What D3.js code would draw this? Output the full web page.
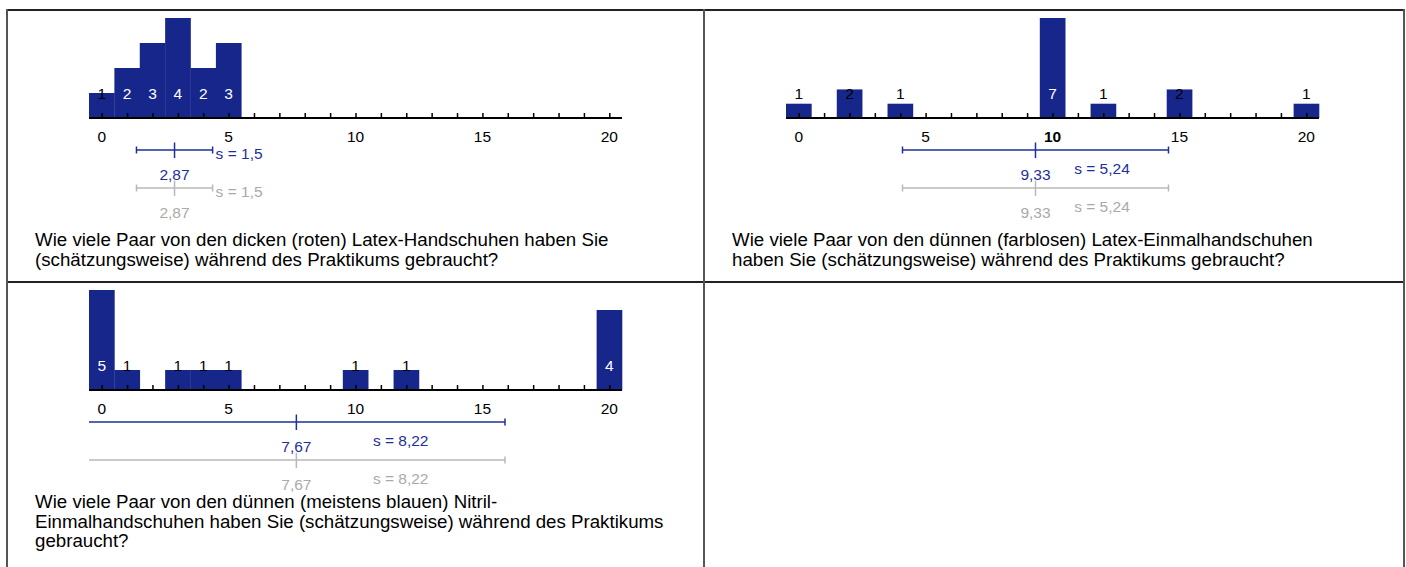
<!DOCTYPE html>
<html><head><meta charset="utf-8">
<script src="https://cdn.jsdelivr.net/npm/d3@7"></script>
<style>
html,body{margin:0;padding:0;background:#fff;}
svg{display:block;font-family:"Liberation Sans",Arial,sans-serif;}
</style></head>
<body><svg id="c" width="1406" height="567"></svg>
<script>
// ---- data ----
const values1 = [0, 1, 2, 3, 4, 5];
const counts1 = [1, 2, 3, 4, 2, 3];
const values2 = [0, 2, 4, 10, 12, 15, 20];
const counts2 = [1, 2, 1, 7, 1, 2, 1];
const values3 = [0, 1, 3, 4, 5, 10, 12, 20];
const counts3 = [5, 1, 1, 1, 1, 1, 1, 4];
const means = [2.87, 9.33, 7.67];
const sds = [1.5, 5.24, 8.22];
const meanLabels = ["2,87", "9,33", "7,67"];
const sdLabels = ["s = 1,5", "s = 5,24", "s = 8,22"];
const tickValues = [0, 5, 10, 15, 20];
const boldTicks = [null, 10, null];
const questions = [
  ["Wie viele Paar von den dicken (roten) Latex-Handschuhen haben Sie",
   "(schätzungsweise) während des Praktikums gebraucht?"],
  ["Wie viele Paar von den dünnen (farblosen) Latex-Einmalhandschuhen",
   "haben Sie (schätzungsweise) während des Praktikums gebraucht?"],
  ["Wie viele Paar von den dünnen (meistens blauen) Nitril-",
   "Einmalhandschuhen haben Sie (schätzungsweise) während des Praktikums",
   "gebraucht?"]
];

// ---- layout ----
const svg = d3.select("#c");
const BAR = "#17268b", BLUE = "#1f2f98", GREY = "#b8b8b8", GREYT = "#aaaaaa";
const FS = 15.5, QFS = 18.7;
const panels = [
  {x0: 7, y0: 10, values: values1, counts: counts1, qY: 246},
  {x0: 704, y0: 10, values: values2, counts: counts2, qY: 246},
  {x0: 7, y0: 282, values: values3, counts: counts3, qY: 508}
];

// table grid
const grid = svg.append("g");
grid.append("line").attr("x1", 7).attr("x2", 1405).attr("y1", 10).attr("y2", 10).attr("stroke", "#222").attr("stroke-width", 2);
grid.append("line").attr("x1", 7).attr("x2", 1405).attr("y1", 282).attr("y2", 282).attr("stroke", "#222").attr("stroke-width", 2);
[7, 704, 1404].forEach(x => grid.append("line").attr("x1", x).attr("x2", x).attr("y1", 9).attr("y2", 567).attr("stroke", "#555").attr("stroke-width", 2));

panels.forEach((p, i) => {
  const g = svg.append("g");
  const left = p.x0 + 82, width = 533;
  const axisY = p.y0 + 108;
  const x = d3.scaleLinear().domain([-0.5, 20.5]).range([left, left + width]);
  const maxC = d3.max(p.counts);
  const y = d3.scaleLinear().domain([0, maxC]).range([axisY, axisY - 100]);
  const bw = x(1) - x(0);

  // bars
  g.selectAll("rect.bar").data(p.values).join("rect")
    .attr("x", d => x(d) - bw / 2).attr("width", bw + 0.3)
    .attr("y", (d, k) => y(p.counts[k])).attr("height", (d, k) => axisY - y(p.counts[k]))
    .attr("fill", BAR);

  // axis with minor ticks at every integer
  const axis = d3.axisTop(x).tickValues(d3.range(0, 21)).tickSize(5).tickFormat("");
  const ag = g.append("g").attr("transform", `translate(0,${axisY})`).call(axis);
  ag.select(".domain").attr("stroke", "#000").attr("stroke-width", 2).attr("d", `M${left},0H${left + width}`);
  ag.selectAll(".tick line").attr("stroke", "#000").attr("stroke-width", 1.5);

  // tick labels
  g.selectAll("text.tl").data(tickValues).join("text")
    .attr("x", d => x(d)).attr("y", axisY + 24).attr("text-anchor", "middle")
    .attr("font-size", FS).attr("font-weight", d => d === boldTicks[i] ? "bold" : "normal")
    .attr("fill", "#000").text(d => d);

  // count labels
  g.selectAll("text.cl").data(p.values).join("text")
    .attr("x", d => x(d)).attr("y", axisY - 19).attr("text-anchor", "middle")
    .attr("font-size", FS)
    .attr("fill", (d, k) => (axisY - y(p.counts[k])) >= 30 ? "#fff" : "#000")
    .text((d, k) => p.counts[k]);

  // error bars (blue and grey)
  [{yy: axisY + 32, c: BLUE, tc: BLUE}, {yy: axisY + 70, c: GREY, tc: GREYT}].forEach(e => {
    const m = means[i], s = sds[i];
    const lo = Math.max(m - s, -0.5), hi = Math.min(m + s, 20.5);
    const eg = g.append("g").attr("stroke", e.c).attr("stroke-width", 1.5);
    eg.append("line").attr("x1", x(lo)).attr("x2", x(hi)).attr("y1", e.yy).attr("y2", e.yy);
    if (m - s >= -0.5) eg.append("line").attr("x1", x(lo)).attr("x2", x(lo)).attr("y1", e.yy - 3.5).attr("y2", e.yy + 3.5);
    if (m + s <= 20.5) eg.append("line").attr("x1", x(hi)).attr("x2", x(hi)).attr("y1", e.yy - 3.5).attr("y2", e.yy + 3.5);
    eg.append("line").attr("x1", x(m)).attr("x2", x(m)).attr("y1", e.yy - 7.5).attr("y2", e.yy + 8);
    g.append("text").attr("x", x(m)).attr("y", e.yy + 30).attr("text-anchor", "middle")
      .attr("font-size", FS).attr("fill", e.tc).text(meanLabels[i]);
    const gap = x(hi) - x(m);
    if (gap > 70) {
      g.append("text").attr("x", (x(m) + x(hi)) / 2).attr("y", e.yy + 24).attr("text-anchor", "middle")
        .attr("font-size", FS).attr("fill", e.tc).text(sdLabels[i]);
    } else {
      g.append("text").attr("x", x(hi) + 3).attr("y", e.yy + 9).attr("text-anchor", "start")
        .attr("font-size", FS).attr("fill", e.tc).text(sdLabels[i]);
    }
  });

  // question text
  const qt = g.append("text").attr("font-size", QFS).attr("fill", "#000");
  questions[i].forEach((line, k) => {
    qt.append("tspan").attr("x", p.x0 + 28).attr("y", p.qY + k * 19.5).text(line);
  });
});
</script></body></html>
